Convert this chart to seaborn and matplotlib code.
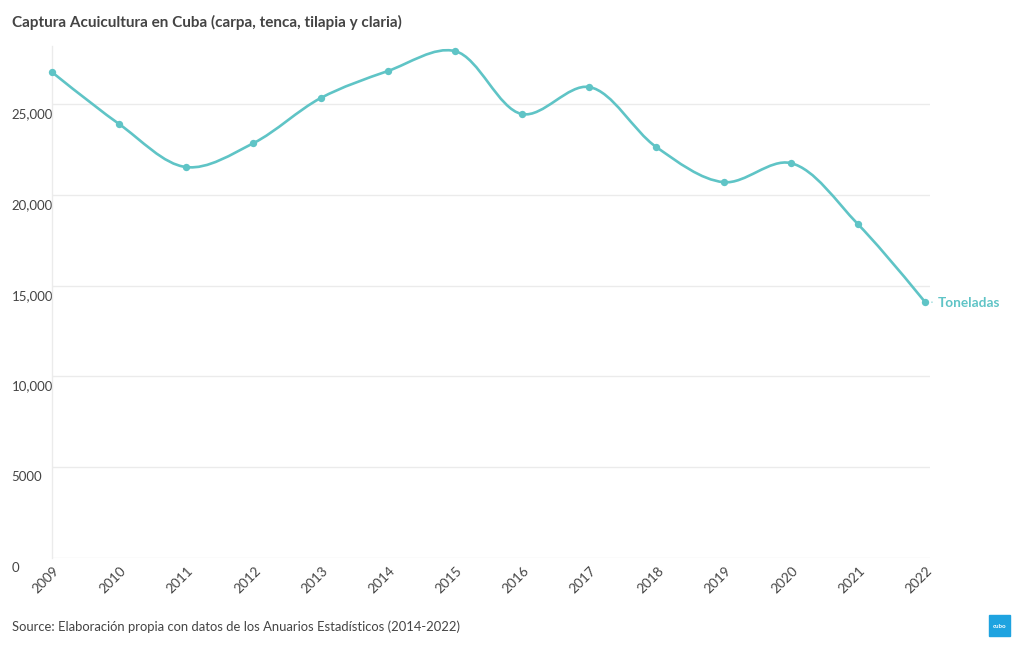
import numpy as np
import matplotlib.pyplot as plt
import matplotlib.transforms as mtransforms
from matplotlib.path import Path
from matplotlib.patches import PathPatch, Rectangle
import pandas as pd
import seaborn as sns

years = list(range(2009, 2023))
toneladas = [26760, 23900, 21530, 22850, 25330, 26820, 27920,
             24450, 25940, 22630, 20700, 21750, 18390, 14100]
y_ticks = [0, 5000, 10000, 15000, 20000, 25000]
y_labels = ["0", "5000", "10,000", "15,000", "20,000", "25,000"]
title = "Captura Acuicultura en Cuba (carpa, tenca, tilapia y claria)"
source = "Source: Elaboración propia con datos de los Anuarios Estadísticos (2014-2022)"
series_name = "Toneladas"

LINE = "#5fc4c6"
TEXT = "#444444"
GRID = "#ebebeb"


def make_tangent(prev, this, nxt, smoothness=1.0):
    # catmull-rom style control points, like plotly's spline
    d1 = prev - this
    d2 = nxt - this
    d1a = np.hypot(*d1) ** 0.5
    d2a = np.hypot(*d2) ** 0.5
    num = (d2a ** 2 * d1 - d1a ** 2 * d2) * smoothness
    den1 = 3 * d2a * (d1a + d2a)
    den2 = 3 * d1a * (d1a + d2a)
    return this + num / den1, this - num / den2


def spline_path(ax, xs, ys):
    pts = ax.transData.transform(np.column_stack([xs, ys]))
    tans = [make_tangent(pts[i - 1], pts[i], pts[i + 1]) for i in range(1, len(pts) - 1)]
    verts = [pts[0], tans[0][0], pts[1]]
    codes = [Path.MOVETO, Path.CURVE3, Path.CURVE3]
    for i in range(2, len(pts) - 1):
        verts += [tans[i - 2][1], tans[i - 1][0], pts[i]]
        codes += [Path.CURVE4] * 3
    verts += [tans[-1][1], pts[-1]]
    codes += [Path.CURVE3] * 2
    verts = ax.transData.inverted().transform(np.array(verts))
    return Path(verts, codes)


df = pd.DataFrame({"year": years, "toneladas": toneladas})

sns.set_theme(style="white")
plt.rcParams["font.family"] = ["Lato", "DejaVu Sans"]

W, H = 1020, 650
fig = plt.figure(figsize=(W / 100, H / 100), dpi=100)
ax = fig.add_axes([52 / W, 1 - 558 / H, (930 - 52) / W, (558 - 46) / H])
ax.set_xlim(2009, 2022.074)
ax.set_ylim(0, 28200)

for s in ["top", "right", "bottom"]:
    ax.spines[s].set_visible(False)
ax.spines["left"].set_color(GRID)
ax.spines["left"].set_linewidth(1)

ax.set_yticks(y_ticks)
ax.set_yticklabels(y_labels, ha="left", va="top", color=TEXT, fontsize=9.5)
ax.tick_params(axis="y", length=0, pad=29)
ax.yaxis.grid(True, color=GRID, linewidth=1)
ax.set_axisbelow(True)
# nudge y labels a little below their gridlines
down = mtransforms.ScaledTranslation(0, -4 / 100, fig.dpi_scale_trans)
for lab in ax.get_yticklabels():
    lab.set_transform(lab.get_transform() + down)

ax.set_xticks(years)
ax.set_xticklabels([str(y) for y in years], rotation=45, ha="right",
                   va="center", rotation_mode="anchor", color=TEXT, fontsize=9.8)
ax.tick_params(axis="x", length=5, width=1, color=GRID, pad=3)
shift = mtransforms.ScaledTranslation(5 / 100, 0, fig.dpi_scale_trans)
for lab in ax.get_xticklabels():
    lab.set_transform(lab.get_transform() + shift)

ax.add_patch(PathPatch(spline_path(ax, df["year"].values, df["toneladas"].values),
                       facecolor="none", edgecolor=LINE, linewidth=1.9,
                       clip_on=False, zorder=2, capstyle="round"))
sns.scatterplot(data=df, x="year", y="toneladas", ax=ax, color=LINE, s=28,
                linewidth=0, zorder=3, clip_on=False, legend=False)
ax.set_xlabel("")
ax.set_ylabel("")

ax.annotate(series_name, xy=(years[-1], toneladas[-1]), xytext=(13, -1),
            textcoords="offset pixels", ha="left", va="center",
            fontsize=9.8, fontweight="bold", color=LINE, annotation_clip=False,
            arrowprops=dict(arrowstyle="-", color=LINE, lw=1, shrinkA=2, shrinkB=5))

fig.text(12 / W, 1 - 22 / H, title, ha="left", va="center",
         fontsize=11, fontweight="bold", color=TEXT)
fig.text(12 / W, 1 - 627 / H, source, ha="left", va="center",
         fontsize=9.4, color=TEXT)

# small logo box
fig.patches.append(Rectangle((989 / W, 1 - 636 / H), 21 / W, 21 / H,
                             transform=fig.transFigure, color="#1ea3e0"))
fig.text(999.5 / W, 1 - 626 / H, "cubo", ha="center", va="center",
         fontsize=4.5, fontweight="bold", color="white")

fig.savefig("out.png", dpi=100)
